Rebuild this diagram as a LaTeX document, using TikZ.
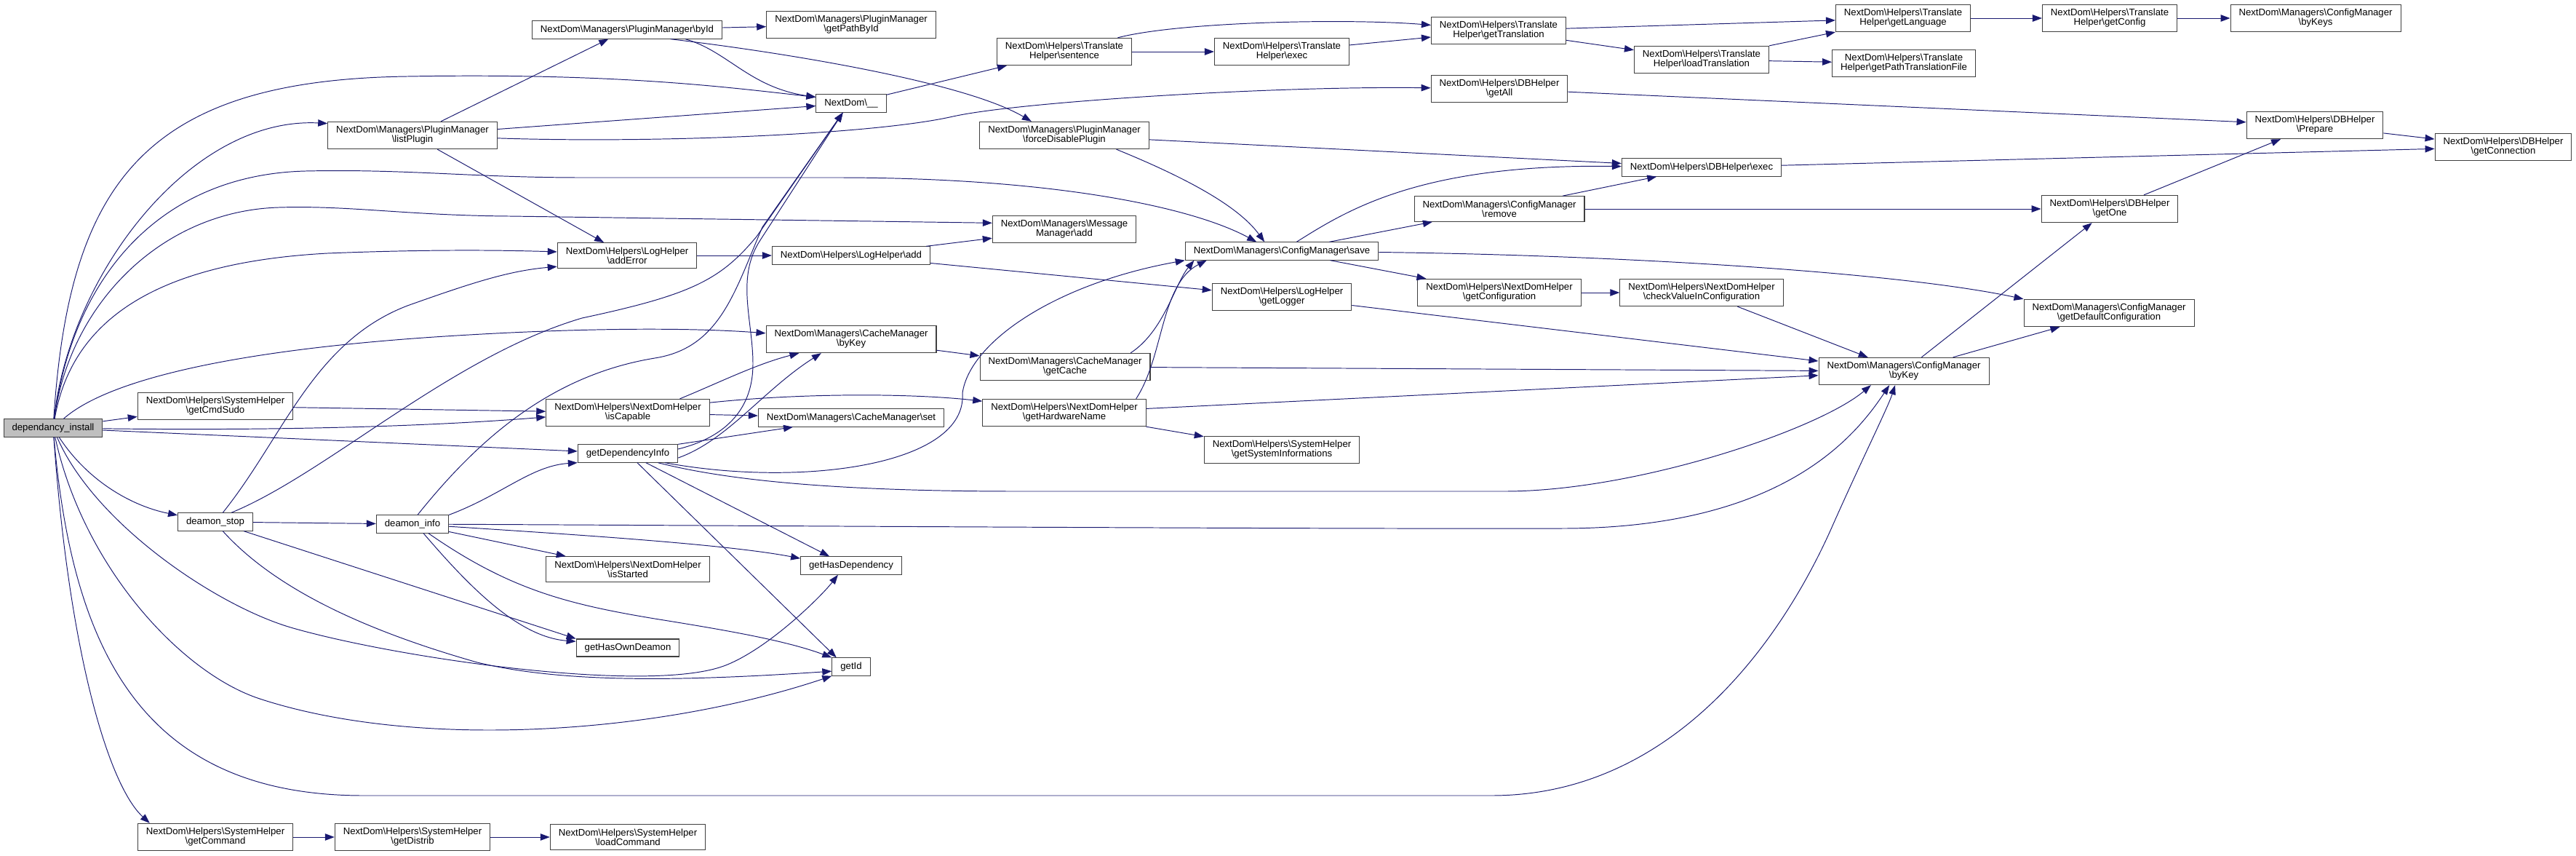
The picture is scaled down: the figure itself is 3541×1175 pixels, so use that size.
\documentclass[tikz,border=0pt]{standalone}
\usepackage{fontspec}
\setmainfont{Liberation Sans}
\usepackage{tikz}
\usetikzlibrary{arrows.meta}
\definecolor{edgeblue}{HTML}{191970}
\definecolor{boxline}{HTML}{404040}
\definecolor{rootfill}{HTML}{BFBFBF}
\newcommand{\bsl}{\textbackslash}

\begin{document}
\begin{tikzpicture}[x=0.2mm, y=-0.2mm, font=\fontsize{7.5}{7.4}\selectfont,
  fn/.style={draw=boxline, line width=0.6pt, fill=white, inner xsep=2.3mm,
             inner ysep=1.2mm, minimum height=4.8mm, align=center},
  root/.style={fn, fill=rootfill},
  ar/.style={edgeblue, line width=0.55pt, -{Triangle[length=2.6mm,width=1.9mm]}}]
\useasboundingbox (0,0) rectangle (3541,1175);

% callers on the left
\node[root] (dep) at (73,588) {dependancy\_install};
\node[fn] (sysGetCmdSudo) at (296,558) {NextDom\bsl Helpers\bsl SystemHelper\\\bsl getCmdSudo};
\node[fn] (deamonStop) at (296,717) {deamon\_stop};
\node[fn] (sysGetCommand) at (296,1150) {NextDom\bsl Helpers\bsl SystemHelper\\\bsl getCommand};
\node[fn] (pmListPlugin) at (567,186) {NextDom\bsl Managers\bsl PluginManager\\\bsl listPlugin};
\node[fn] (deamonInfo) at (567,720) {deamon\_info};
\node[fn] (sysGetDistrib) at (567,1150) {NextDom\bsl Helpers\bsl SystemHelper\\\bsl getDistrib};
\node[fn] (pmById) at (862,41) {NextDom\bsl Managers\bsl PluginManager\bsl byId};
\node[fn] (logAddError) at (862,351) {NextDom\bsl Helpers\bsl LogHelper\\\bsl addError};
\node[fn] (ndhIsCapable) at (863,567) {NextDom\bsl Helpers\bsl NextDomHelper\\\bsl isCapable};
\node[fn] (getDependencyInfo) at (863,623) {getDependencyInfo};
\node[fn] (ndhIsStarted) at (863,782) {NextDom\bsl Helpers\bsl NextDomHelper\\\bsl isStarted};
\node[fn] (getHasOwnDeamon) at (863,890) {getHasOwnDeamon};
\node[fn] (sysLoadCommand) at (863,1150) {NextDom\bsl Helpers\bsl SystemHelper\\\bsl loadCommand};

% middle columns
\node[fn] (pmGetPathById) at (1170,34) {NextDom\bsl Managers\bsl PluginManager\\\bsl getPathById};
\node[fn] (ndTr) at (1170,142) {NextDom\bsl\_\_};
\node[fn] (logAdd) at (1170,351) {NextDom\bsl Helpers\bsl LogHelper\bsl add};
\node[fn] (cacheByKey) at (1170,466) {NextDom\bsl Managers\bsl CacheManager\\\bsl byKey};
\node[fn] (cacheSet) at (1170,574) {NextDom\bsl Managers\bsl CacheManager\bsl set};
\node[fn] (getHasDependency) at (1170,777) {getHasDependency};
\node[fn] (getId) at (1170,916) {getId};
\node[fn] (trSentence) at (1463,71) {NextDom\bsl Helpers\bsl Translate\\Helper\bsl sentence};
\node[fn] (pmForceDisable) at (1463,186) {NextDom\bsl Managers\bsl PluginManager\\\bsl forceDisablePlugin};
\node[fn] (msgAdd) at (1463,315) {NextDom\bsl Managers\bsl Message\\Manager\bsl add};
\node[fn] (cacheGetCache) at (1464,504) {NextDom\bsl Managers\bsl CacheManager\\\bsl getCache};
\node[fn] (ndhGetHardwareName) at (1463,567) {NextDom\bsl Helpers\bsl NextDomHelper\\\bsl getHardwareName};
\node[fn] (trExec) at (1762,71) {NextDom\bsl Helpers\bsl Translate\\Helper\bsl exec};
\node[fn] (cfgSave) at (1762,345) {NextDom\bsl Managers\bsl ConfigManager\bsl save};
\node[fn] (logGetLogger) at (1762,408) {NextDom\bsl Helpers\bsl LogHelper\\\bsl getLogger};
\node[fn] (sysGetSystemInfo) at (1762,618) {NextDom\bsl Helpers\bsl SystemHelper\\\bsl getSystemInformations};
\node[fn] (trGetTranslation) at (2060,42) {NextDom\bsl Helpers\bsl Translate\\Helper\bsl getTranslation};
\node[fn] (dbGetAll) at (2061,122) {NextDom\bsl Helpers\bsl DBHelper\\\bsl getAll};
\node[fn] (cfgRemove) at (2061,287) {NextDom\bsl Managers\bsl ConfigManager\\\bsl remove};
\node[fn] (ndhGetConfiguration) at (2061,402) {NextDom\bsl Helpers\bsl NextDomHelper\\\bsl getConfiguration};
\node[fn] (trLoadTranslation) at (2339,82) {NextDom\bsl Helpers\bsl Translate\\Helper\bsl loadTranslation};
\node[fn] (dbExec) at (2339,230) {NextDom\bsl Helpers\bsl DBHelper\bsl exec};
\node[fn] (ndhCheckValue) at (2339,402) {NextDom\bsl Helpers\bsl NextDomHelper\\\bsl checkValueInConfiguration};

% right side
\node[fn] (trGetLanguage) at (2616,25) {NextDom\bsl Helpers\bsl Translate\\Helper\bsl getLanguage};
\node[fn] (trGetPathFile) at (2617,87) {NextDom\bsl Helpers\bsl Translate\\Helper\bsl getPathTranslationFile};
\node[fn] (cfgByKey) at (2617,510) {NextDom\bsl Managers\bsl ConfigManager\\\bsl byKey};
\node[fn] (trGetConfig) at (2900,25) {NextDom\bsl Helpers\bsl Translate\\Helper\bsl getConfig};
\node[fn] (dbGetOne) at (2900,287) {NextDom\bsl Helpers\bsl DBHelper\\\bsl getOne};
\node[fn] (cfgGetDefault) at (2899,430) {NextDom\bsl Managers\bsl ConfigManager\\\bsl getDefaultConfiguration};
\node[fn] (cfgByKeys) at (3183,25) {NextDom\bsl Managers\bsl ConfigManager\\\bsl byKeys};
\node[fn] (dbPrepare) at (3182,172) {NextDom\bsl Helpers\bsl DBHelper\\\bsl Prepare};
\node[fn] (dbGetConnection) at (3441,202) {NextDom\bsl Helpers\bsl DBHelper\\\bsl getConnection};

% calls made by dependancy_install
\draw[ar] (dep) .. controls (95,250) and (200,110) .. (560,105)
  .. controls (850,100) and (1000,120) .. (ndTr.170);
\draw[ar] (dep) .. controls (95,380) and (260,160) .. (pmListPlugin.172);
\draw[ar] (dep) .. controls (100,380) and (220,240) .. (420,235)
  .. controls (560,232) and (650,244) .. (800,244) -- (1150,244)
  .. controls (1450,244) and (1640,285) .. (cfgSave.160);
\draw[ar] (dep) .. controls (95,420) and (220,290) .. (383,285)
  .. controls (480,282) and (560,296) .. (700,297) -- (msgAdd.175);
\draw[ar] (dep) .. controls (100,430) and (230,360) .. (450,348)
  .. controls (600,342) and (700,344) .. (logAddError.177);
\draw[ar] (dep) .. controls (150,520) and (330,480) .. (612,462)
  .. controls (800,450) and (950,450) .. (cacheByKey.176);
\draw[ar] (dep) -- (sysGetCmdSudo);
\draw[ar] (dep) .. controls (400,592) and (600,585) .. (ndhIsCapable.183);
\draw[ar] (dep) -- (getDependencyInfo);
\draw[ar] (dep) .. controls (120,660) and (180,695) .. (deamonStop.170);
\draw[ar] (dep) .. controls (130,720) and (300,834) .. (403,863)
  .. controls (550,905) and (900,955) .. (1000,913)
  .. controls (1060,888) and (1130,818) .. (getHasDependency.215);
\draw[ar] (dep) .. controls (115,780) and (250,925) .. (357,960)
  .. controls (571,1030) and (900,1010) .. (getId.south west);
\draw[ar] (dep) .. controls (100,900) and (200,1093) .. (500,1093) -- (2050,1093)
  .. controls (2300,1093) and (2450,880) .. (2520,720)
  .. controls (2560,630) and (2595,560) .. (cfgByKey.238);
\draw[ar] (dep) .. controls (95,900) and (150,1080) .. (sysGetCommand.168);

% plugin manager
\draw[ar] (pmListPlugin) -- (pmById);
\draw[ar] (pmListPlugin) -- (ndTr);
\draw[ar] (pmListPlugin) .. controls (900,197) and (1200,185) .. (1310,160)
  .. controls (1400,140) and (1750,118) .. (dbGetAll);
\draw[ar] (pmListPlugin) -- (logAddError);
\draw[ar] (pmById) -- (pmGetPathById);
\draw[ar] (pmById.351) .. controls (1000,70) and (1030,120) .. (ndTr.170);
\draw[ar] (pmById.348) .. controls (1100,75) and (1330,115) .. (pmForceDisable.157);
\draw[ar] (pmForceDisable) -- (dbExec);
\draw[ar] (pmForceDisable.345) .. controls (1620,240) and (1700,280) .. (cfgSave.152);

% translation
\draw[ar] (ndTr) -- (trSentence);
\draw[ar] (trSentence) -- (trExec);
\draw[ar] (trSentence) .. controls (1620,30) and (1850,25) .. (trGetTranslation);
\draw[ar] (trExec) -- (trGetTranslation);
\draw[ar] (trGetTranslation) -- (trGetLanguage);
\draw[ar] (trGetTranslation) -- (trLoadTranslation);
\draw[ar] (trLoadTranslation) -- (trGetLanguage);
\draw[ar] (trLoadTranslation) -- (trGetPathFile);
\draw[ar] (trGetLanguage) -- (trGetConfig);
\draw[ar] (trGetConfig) -- (cfgByKeys);

% database and config
\draw[ar] (dbGetAll) -- (dbPrepare);
\draw[ar] (dbExec) -- (dbGetConnection);
\draw[ar] (cfgRemove) -- (dbExec);
\draw[ar] (cfgRemove) -- (dbGetOne);
\draw[ar] (cfgSave) .. controls (1850,290) and (1950,225) .. (dbExec);
\draw[ar] (cfgSave) -- (cfgRemove);
\draw[ar] (cfgSave) -- (ndhGetConfiguration);
\draw[ar] (cfgSave) .. controls (2200,350) and (2600,372) .. (cfgGetDefault.north west);
\draw[ar] (ndhGetConfiguration) -- (ndhCheckValue);
\draw[ar] (ndhCheckValue) -- (cfgByKey);
\draw[ar] (logGetLogger) -- (cfgByKey);
\draw[ar] (cfgByKey) -- (dbGetOne);
\draw[ar] (cfgByKey) -- (cfgGetDefault);
\draw[ar] (dbGetOne) -- (dbPrepare);
\draw[ar] (dbPrepare) -- (dbGetConnection);

% logging
\draw[ar] (logAddError) -- (logAdd);
\draw[ar] (logAdd) -- (msgAdd);
\draw[ar] (logAdd) -- (logGetLogger);

% cache and helpers
\draw[ar] (cacheByKey) -- (cacheGetCache);
\draw[ar] (cacheGetCache.12) .. controls (1600,455) and (1615,390) .. (cfgSave.186);
\draw[ar] (cacheGetCache) -- (cfgByKey);
\draw[ar] (ndhGetHardwareName.11) .. controls (1600,490) and (1595,390) .. (cfgSave.187);
\draw[ar] (ndhGetHardwareName) -- (cfgByKey);
\draw[ar] (ndhGetHardwareName) -- (sysGetSystemInfo);
\draw[ar] (sysGetCmdSudo) -- (ndhIsCapable);
\draw[ar] (ndhIsCapable.15) .. controls (990,525) and (1040,500) .. (cacheByKey.195);
\draw[ar] (ndhIsCapable) -- (cacheSet);
\draw[ar] (ndhIsCapable.7) .. controls (1100,540) and (1250,540) .. (ndhGetHardwareName.172);

% getDependencyInfo
\draw[ar] (getDependencyInfo.5) .. controls (1000,600) and (1035,560) .. (1035,500)
  .. controls (1035,440) and (1011,382) .. (1045,330) -- (ndTr.228);
\draw[ar] (getDependencyInfo.355) .. controls (1000,605) and (1050,535) .. (cacheByKey.205);
\draw[ar] (getDependencyInfo.north east) -- (cacheSet.189);
\draw[ar] (getDependencyInfo.346) .. controls (1100,670) and (1330,640) .. (1323,540)
  .. controls (1333,470) and (1450,390) .. (cfgSave.south west);
\draw[ar] (getDependencyInfo.343) .. controls (1000,660) and (1150,675) .. (1400,675) -- (2068,675)
  .. controls (2250,675) and (2500,590) .. (cfgByKey.203);
\draw[ar] (getDependencyInfo) -- (getHasDependency.157);
\draw[ar] (getDependencyInfo) -- (getId.148);

% deamon_stop and deamon_info
\draw[ar] (deamonStop) -- (deamonInfo);
\draw[ar] (deamonStop.30) .. controls (450,650) and (620,490) .. (800,437)
  .. controls (950,405) and (990,385) .. (1040,325) -- (ndTr.228);
\draw[ar] (deamonStop.51) .. controls (390,600) and (430,470) .. (560,420)
  .. controls (650,388) and (700,372) .. (logAddError.189);
\draw[ar] (deamonStop) -- (getHasOwnDeamon.north west);
\draw[ar] (deamonStop.309) .. controls (370,800) and (480,860) .. (656,910)
  .. controls (780,940) and (950,935) .. (getId.193);
\draw[ar] (deamonInfo.61) .. controls (660,600) and (760,515) .. (900,492)
  .. controls (990,478) and (1010,400) .. (1048,312) -- (ndTr.228);
\draw[ar] (deamonInfo.north east) .. controls (690,680) and (730,640) .. (getDependencyInfo.south west);
\draw[ar] (deamonInfo) .. controls (1000,722) and (1800,727) .. (2150,726)
  .. controls (2450,725) and (2550,600) .. (cfgByKey.224);
\draw[ar] (deamonInfo) -- (ndhIsStarted);
\draw[ar] (deamonInfo) .. controls (800,735) and (1000,748) .. (getHasDependency.172);
\draw[ar] (deamonInfo.320) .. controls (640,800) and (710,875) .. (getHasOwnDeamon.173);
\draw[ar] (deamonInfo.330) .. controls (700,810) and (780,830) .. (900,850)
  .. controls (1000,866) and (1080,880) .. (getId.north west);

% system helper chain
\draw[ar] (sysGetCommand) -- (sysGetDistrib);
\draw[ar] (sysGetDistrib) -- (sysLoadCommand);
\end{tikzpicture}
\end{document}
